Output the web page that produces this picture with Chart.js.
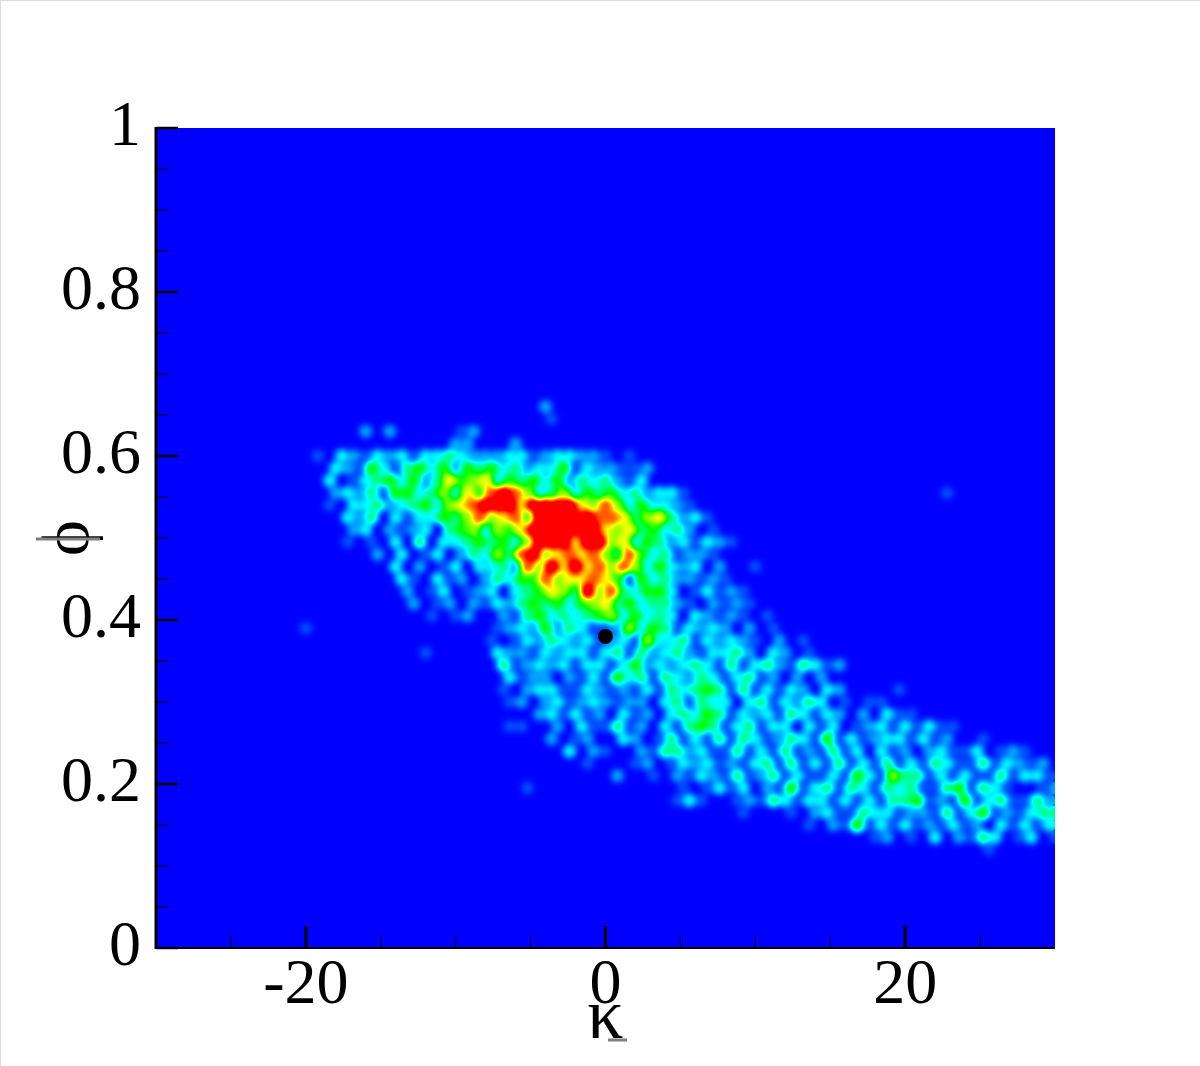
<!DOCTYPE html>
<html>
<head>
<meta charset="utf-8">
<title>phi kappa density</title>
<script src="https://cdn.jsdelivr.net/npm/chart.js@4"></script>
<style>
  html, body { margin: 0; padding: 0; background: #fff; }
  #wrap { position: relative; width: 1200px; height: 1066px; overflow: hidden; }
  #edge { position: absolute; left: 0; top: 0; width: 1200px; height: 1066px; box-sizing: border-box;
          border-left: 1px solid #dcdcdc; border-top: 1px solid #dcdcdc; pointer-events: none; }
</style>
</head>
<body>
<div id="wrap">
  <canvas id="chart" width="1200" height="1066"></canvas>
  <div id="edge"></div>
</div>
<script>
// axis ticks
const xMajorTicks = [-20, 0, 20];
const xMinorTicks = [-25, -15, -10, -5, 5, 10, 15, 25];
const yMajorTicks = [0, 0.2, 0.4, 0.6, 0.8, 1];
const yMinorTicks = [0.05, 0.1, 0.15, 0.25, 0.3, 0.35, 0.45, 0.5, 0.55, 0.65, 0.7, 0.75, 0.85, 0.9, 0.95];

// grid the density was read on, odd rows sit half a step to the right
const kappaStart = -20;
const kappaStep = 0.8;
const phiStart = 0.66;
const phiStep = 0.015;

// density levels 0-9, one string per phi row (spaces only for reading)
const densityRows = [
  "00000 00000 00000 00000 20000",
  "00000 00000 00000 00000 10000",
  "00000 20200 00012",
  "00000 00000 00220 00200",
  "01032 13231 33432 22331 23322 10100",
  "00321 53145 35254 53423 35132 21120",
  "00301 34535 24756 73545 35243 42130",
  "00232 41553 46375 89863 46354 53423 31000 00000 00000 00000 00010",
  "00103 34234 53678 99979 99976 86353 32100",
  "00032 40313 35468 67859 99998 87467 42310",
  "00002 30212 30456 36579 99999 76745 34201",
  "00010 10304 03345 45369 99799 67354 23132 10000",
  "00000 02030 13024 36489 67878 64853 41221",
  "00000 00302 01303 34286 97978 68635 32302 00100",
  "00000 00031 03120 24355 86778 75153 42212 10000",
  "00000 00020 13012 30345 76496 84355 30131 21000",
  "00000 00002 01202 13245 45356 74534 42102 12100",
  "00000 00000 10120 02145 34345 63534 30321 21010",
  "10000 00000 00000 01232 52431 12635 41323 20201",
  "00000 00000 00000 10132 43231 23163 34132 32102 01000",
  "00000 00000 10000 03221 32331 34142 34213 34203 20100",
  "00000 00000 00000 04123 23133 13523 23431 41342 14312",
  "00000 00000 00000 00312 20213 15341 43243 13412 02020",
  "00000 00000 00000 01023 31132 12131 43454 14131 32032 00001",
  "00000 00000 00000 00120 23123 21220 34143 30341 32430 10110",
  "00000 00000 00000 00002 31312 03120 34354 13231 43132 02031 10000",
  "00000 00000 00000 00110 02031 14120 31454 13413 30313 01231 31311",
  "00000 00000 00000 00000 20120 03201 41314 14312 43151 31233 13120 01000",
  "00000 00000 00000 00000 00302 10021 44231 14131 41214 13031 20231 13012 10",
  "00000 00000 00000 00000 00010 00120 13231 21341 41314 13141 31431 14132 120",
  "00000 00000 00000 00000 00000 02001 02132 14124 13113 15316 44131 31141 331",
  "00000 00000 00000 00010 00000 00000 01013 13021 51341 43143 41145 14310 012",
  "00000 00000 00000 00000 00000 00000 01310 01214 31331 31314 45121 51341 142",
  "00000 00000 00000 00000 00000 00000 00000 01000 10231 14331 22141 35121 344",
  "00000 00000 00000 00000 00000 00000 00000 00000 00102 15131 31213 12031 313",
  "00000 00000 00000 00000 00000 00000 00000 00000 00000 00120 10302 14301 301",
  "00000 00000 00000 00000 00000 00000 00000 00000 00000 00000 00000 00100"
];

// black marker on the plot
const markerKappa = [0];
const markerPhi = [0.38];

// rainbow the level field is painted with: position 0-1, r, g, b
const RAMP = [
    [0, 0, 0, 255], [0.33, 0, 255, 255], [0.55, 0, 255, 0],
    [0.78, 255, 255, 0], [0.95, 255, 0, 0], [1, 255, 0, 0]
];
const lut = [];
for (let g = 0; g < 256; g++) {
    const t = g / 255;
    let k = 0;
    while (k < RAMP.length - 2 && t > RAMP[k + 1][0]) k++;
    const a = RAMP[k], b = RAMP[k + 1], f = (t - a[0]) / (b[0] - a[0]);
    lut.push([a[1] + (b[1] - a[1]) * f, a[2] + (b[2] - a[2]) * f, a[3] + (b[3] - a[3]) * f]);
}

function cellsAtLevel(level) {
    const pts = [];
    densityRows.forEach((row, j) => {
        const cells = row.replace(/ /g, '');
        for (let i = 0; i < cells.length; i++) {
            if (+cells[i] === level) {
                pts.push({ x: kappaStart + (i + (j % 2) * 0.5) * kappaStep, y: phiStart - j * phiStep });
            }
        }
    });
    return pts;
}

const datasets = [{
    data: markerKappa.map((k, i) => ({ x: k, y: markerPhi[i] })),
    backgroundColor: '#000', borderWidth: 0, pointRadius: 7.5, pointStyle: 'circle'
}];
// first dataset paints last, so hot levels go first. Drawn as grey, coloured in the plugin
for (let level = 9; level >= 1; level--) {
    const g = Math.round(level / 9 * 255);
    datasets.push({
        data: cellsAtLevel(level), backgroundColor: `rgb(${g},${g},${g})`, borderWidth: 0,
        pointRadius: 6 + level * 0.25, pointStyle: 'circle'
    });
}

const axisPlugin = {
    id: 'axisPlugin',
    beforeDatasetsDraw(chart) {
        const a = chart.chartArea, ctx = chart.ctx;
        ctx.save();
        ctx.fillStyle = '#000';
        ctx.fillRect(a.left, a.top, a.right - a.left, a.bottom - a.top);
        ctx.restore();
    },
    // once the grey discs are down: smooth them, then colour by level. Marker comes after
    afterDatasetDraw(chart, args) {
        if (args.index !== 1) return;
        const a = chart.chartArea, ctx = chart.ctx, w = a.right - a.left, h = a.bottom - a.top;
        const copy = document.createElement('canvas');
        copy.width = w; copy.height = h;
        copy.getContext('2d').drawImage(chart.canvas, a.left, a.top, w, h, 0, 0, w, h);
        ctx.save();
        ctx.beginPath(); ctx.rect(a.left, a.top, w, h); ctx.clip();
        ctx.filter = 'blur(3px)';
        ctx.drawImage(copy, a.left, a.top);
        ctx.restore();
        const img = ctx.getImageData(a.left, a.top, w, h), d = img.data;
        for (let p = 0; p < d.length; p += 4) {
            const c = lut[d[p]];
            d[p] = c[0]; d[p + 1] = c[1]; d[p + 2] = c[2]; d[p + 3] = 255;
        }
        ctx.putImageData(img, a.left, a.top);
    },
    afterDraw(chart) {
        const a = chart.chartArea, ctx = chart.ctx, sx = chart.scales.x, sy = chart.scales.y;
        ctx.save();
        ctx.strokeStyle = '#000';
        const vt = (v, len, w) => { const p = sx.getPixelForValue(v); ctx.lineWidth = w; ctx.beginPath(); ctx.moveTo(p, a.bottom); ctx.lineTo(p, a.bottom - len); ctx.stroke(); };
        const ht = (v, len, w) => { const p = sy.getPixelForValue(v); ctx.lineWidth = w; ctx.beginPath(); ctx.moveTo(a.left, p); ctx.lineTo(a.left + len, p); ctx.stroke(); };
        xMajorTicks.forEach(v => vt(v, 22, 3));
        xMinorTicks.forEach(v => vt(v, 12, 1));
        yMajorTicks.forEach(v => ht(v, 22, 2.5));
        yMinorTicks.forEach(v => ht(v, 12, 1));
        ctx.lineWidth = 3;
        ctx.beginPath(); ctx.moveTo(a.left, a.top - 1); ctx.lineTo(a.left, a.bottom + 1); ctx.stroke();
        ctx.lineWidth = 2;
        ctx.beginPath(); ctx.moveTo(a.left, a.bottom); ctx.lineTo(a.right, a.bottom); ctx.stroke();
        // grey strokes of the axis letters
        ctx.strokeStyle = '#808080';
        ctx.lineWidth = 3;
        ctx.beginPath(); ctx.moveTo(36, 539); ctx.lineTo(100, 539); ctx.stroke();
        ctx.beginPath(); ctx.moveTo(608, 1040); ctx.lineTo(627, 1040); ctx.stroke();
        ctx.restore();
    }
};

const SERIF = '"Liberation Serif", serif';
new Chart(document.getElementById('chart').getContext('2d'), {
    type: 'scatter',
    data: { datasets },
    plugins: [axisPlugin],
    options: {
        responsive: false, animation: false, events: [],
        layout: { padding: { top: 128, right: 145, left: 0, bottom: 0 } },
        plugins: { legend: { display: false }, tooltip: { enabled: false } },
        scales: {
            x: {
                type: 'linear', min: -30, max: 30,
                afterFit: s => { s.height = 118; },
                afterBuildTicks: s => { s.ticks = xMajorTicks.map(v => ({ value: v })); },
                grid: { display: false, drawTicks: false }, border: { display: false },
                ticks: { font: { family: SERIF, size: 64 }, color: '#000', padding: 0, maxRotation: 0, autoSkip: false },
                title: { display: true, text: 'κ', font: { family: SERIF, size: 72 }, color: '#000', padding: { top: 0, bottom: 4 } }
            },
            y: {
                type: 'linear', min: 0, max: 1,
                afterFit: s => { s.width = 156; },
                afterBuildTicks: s => { s.ticks = yMajorTicks.map(v => ({ value: v })); },
                grid: { display: false, drawTicks: false }, border: { display: false },
                ticks: { font: { family: SERIF, size: 64 }, color: '#000', padding: 15, autoSkip: false, callback: v => String(v) },
                title: { display: true, text: 'ϕ', font: { family: SERIF, size: 68 }, color: '#000', padding: { top: 30, bottom: 0 } }
            }
        }
    }
});
</script>
</body>
</html>
